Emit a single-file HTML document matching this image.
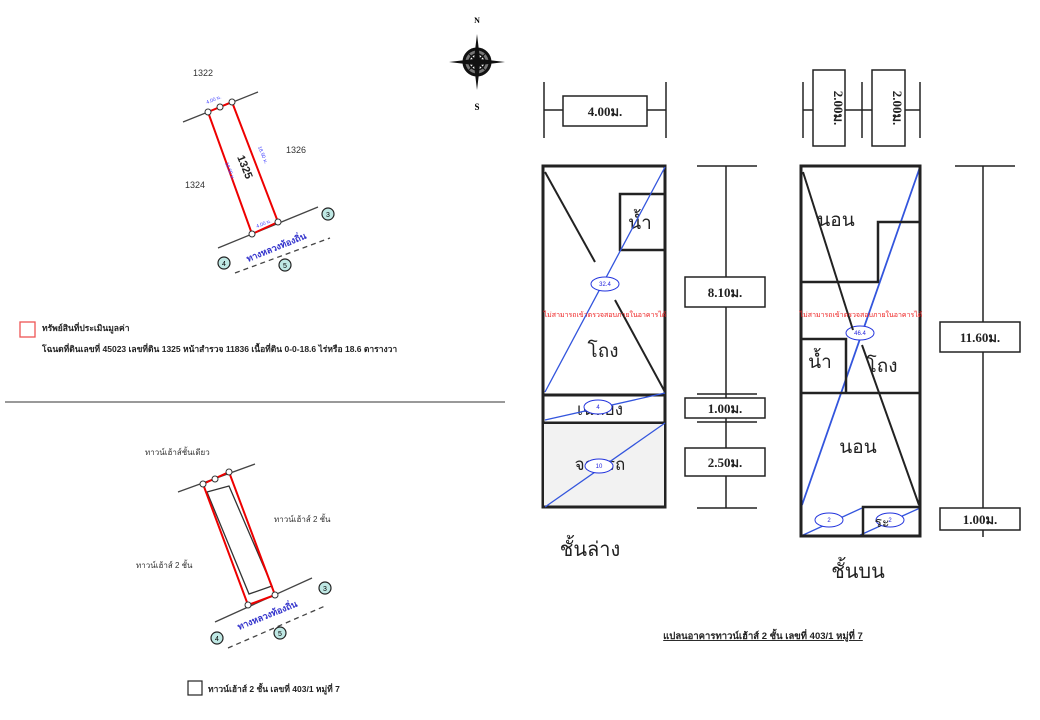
<!DOCTYPE html>
<html><head><meta charset="utf-8"><style>
html,body{margin:0;padding:0;background:#fff;}
svg{display:block;font-family:"Liberation Sans","Noto Sans CJK SC",sans-serif;}
.th{font-family:"Liberation Serif","Noto Serif CJK SC",serif;}
</style></head><body>
<svg width="1040" height="720" viewBox="0 0 1040 720" xmlns="http://www.w3.org/2000/svg">
<defs>
<g id="cir"><circle r="6" fill="#bfe8e4" stroke="#222" stroke-width="1.2"/></g>
</defs>
<!-- top-left parcel -->
<g font-size="9" fill="#333">
<text x="193" y="76">1322</text><text x="286" y="153">1326</text><text x="185" y="188">1324</text>
</g>
<line x1="183" y1="122" x2="258" y2="92" stroke="#444" stroke-width="1.3"/>
<line x1="218" y1="248" x2="318" y2="207" stroke="#444" stroke-width="1.3"/>
<line x1="235" y1="273" x2="330" y2="238" stroke="#444" stroke-width="1.3" stroke-dasharray="5,4"/>
<polygon points="208,112 232,102 278,222 252,234" fill="none" stroke="#e00" stroke-width="2"/>
<g fill="#fff" stroke="#333" stroke-width="1"><circle cx="208" cy="112" r="3"/><circle cx="220" cy="107" r="3"/><circle cx="232" cy="102" r="3"/><circle cx="278" cy="222" r="3"/><circle cx="252" cy="234" r="3"/></g>
<text x="0" y="0" font-size="11" font-weight="bold" fill="#222" transform="translate(237,157) rotate(68)">1325</text>
<text font-size="5" fill="#44f" transform="translate(207,104) rotate(-22)">4.00 ม.</text>
<text font-size="5" fill="#44f" transform="translate(257,228) rotate(-22)">4.00 ม.</text>
<text font-size="5" fill="#44f" transform="translate(258,147) rotate(68)">18.50 ม.</text>
<text font-size="5" fill="#44f" transform="translate(225,163) rotate(68)">18.50 ม.</text>
<text font-size="9" font-weight="bold" fill="#33c" transform="translate(248,262) rotate(-22)">ทางหลวงท้องถิ่น</text>
<use href="#cir" x="328" y="214"/><use href="#cir" x="224" y="263"/><use href="#cir" x="285" y="265"/>
<g font-size="7" text-anchor="middle" fill="#000"><text x="328" y="217">3</text><text x="224" y="266">4</text><text x="285" y="268">5</text></g>
<rect x="20" y="322" width="15" height="15" fill="none" stroke="#e55" stroke-width="1.3"/>
<text x="42" y="331" font-size="8.5" font-weight="bold" fill="#222">ทรัพย์สินที่ประเมินมูลค่า</text>
<text x="42" y="352" font-size="8.5" font-weight="bold" fill="#222">โฉนดที่ดินเลขที่ 45023 เลขที่ดิน 1325 หน้าสำรวจ 11836 เนื้อที่ดิน 0-0-18.6 ไร่หรือ 18.6 ตารางวา</text>
<line x1="5" y1="402" x2="505" y2="402" stroke="#333" stroke-width="1"/>
<!-- bottom-left parcel -->
<g font-size="8" fill="#333">
<text x="145" y="455">ทาวน์เฮ้าส์ชั้นเดียว</text><text x="274" y="522">ทาวน์เฮ้าส์ 2 ชั้น</text><text x="136" y="568">ทาวน์เฮ้าส์ 2 ชั้น</text>
</g>
<line x1="178" y1="492" x2="255" y2="464" stroke="#444" stroke-width="1.3"/>
<line x1="215" y1="622" x2="312" y2="578" stroke="#444" stroke-width="1.3"/>
<line x1="228" y1="648" x2="325" y2="606" stroke="#444" stroke-width="1.3" stroke-dasharray="5,4"/>
<polygon points="207,492 229,486 272,586 249,594" fill="none" stroke="#333" stroke-width="1.3"/>
<polygon points="203,484 229,472 275,595 248,605" fill="none" stroke="#e00" stroke-width="2"/>
<g fill="#fff" stroke="#333" stroke-width="1"><circle cx="203" cy="484" r="3"/><circle cx="215" cy="479" r="3"/><circle cx="229" cy="472" r="3"/><circle cx="275" cy="595" r="3"/><circle cx="248" cy="605" r="3"/></g>
<text font-size="9" font-weight="bold" fill="#33c" transform="translate(239,630) rotate(-22)">ทางหลวงท้องถิ่น</text>
<use href="#cir" x="325" y="588"/><use href="#cir" x="217" y="638"/><use href="#cir" x="280" y="633"/>
<g font-size="7" text-anchor="middle" fill="#000"><text x="325" y="591">3</text><text x="217" y="641">4</text><text x="280" y="636">5</text></g>
<rect x="188" y="681" width="14" height="14" fill="none" stroke="#222" stroke-width="1.2"/>
<text x="208" y="692" font-size="8.5" font-weight="bold" fill="#222">ทาวน์เฮ้าส์ 2 ชั้น เลขที่ 403/1 หมู่ที่ 7</text>
<!-- compass -->
<g transform="translate(477,62)">
<circle r="13" fill="#777" stroke="#111" stroke-width="3"/>
<circle r="8" fill="#fff" stroke="#111" stroke-width="1.5"/>
<polygon points="0,-28 3,-3 28,0 3,3 0,28 -3,3 -28,0 -3,-3" fill="#111"/>
<polygon points="-10,-10 0,-2 10,-10 2,0 10,10 0,2 -10,10 -2,0" fill="#111"/>
</g>
<text x="477" y="23" font-size="8" font-weight="bold" text-anchor="middle" class="th">N</text>
<text x="477" y="110" font-size="9" font-weight="bold" text-anchor="middle" class="th">S</text>
<!-- left floor plan -->
<g stroke="#222" fill="none" stroke-width="1.5">
<line x1="544" y1="82" x2="544" y2="138"/><line x1="666" y1="82" x2="666" y2="138"/>
<line x1="544" y1="110" x2="563" y2="110"/><line x1="647" y1="110" x2="666" y2="110"/>
<rect x="563" y="96" width="84" height="30"/>
<rect x="543" y="166" width="122" height="341" stroke-width="3"/>
<line x1="543" y1="395" x2="665" y2="395" stroke-width="3"/>
<line x1="543" y1="423" x2="665" y2="423" stroke-width="3"/>
<rect x="620" y="194" width="45" height="56" stroke-width="2.5"/>
<line x1="545" y1="172" x2="595" y2="262" stroke-width="2"/>
<line x1="615" y1="300" x2="665" y2="392" stroke-width="2"/>
<line x1="697" y1="166" x2="757" y2="166"/><line x1="726" y1="166" x2="726" y2="508"/>
<line x1="697" y1="508" x2="757" y2="508"/>
<line x1="697" y1="394" x2="757" y2="394"/><line x1="697" y1="422" x2="757" y2="422"/>
</g>
<rect x="544" y="424" width="120" height="82" fill="#f2f2f2"/>
<line x1="543" y1="507" x2="665" y2="507" stroke="#222" stroke-width="3"/>
<g fill="#fff" stroke="#222" stroke-width="1.5">
<rect x="685" y="277" width="80" height="30"/><rect x="685" y="398" width="80" height="20"/><rect x="685" y="448" width="80" height="28"/>
</g>
<g class="th" font-size="13" font-weight="bold" text-anchor="middle" fill="#222">
<text x="605" y="116">4.00ม.</text><text x="725" y="297">8.10ม.</text><text x="725" y="413">1.00ม.</text><text x="725" y="467">2.50ม.</text>
</g>
<g class="th" font-size="19" text-anchor="middle" fill="#222">
<text x="640" y="229">น้ำ</text><text x="603" y="357">โถง</text><text x="600" y="415" font-size="17">เฉลียง</text><text x="600" y="470" font-size="17">จอดรถ</text>
<text x="590" y="556" font-size="20">ชั้นล่าง</text>
</g>
<g stroke="#3355dd" stroke-width="1.3" fill="none">
<line x1="665" y1="167" x2="545" y2="392"/>
<line x1="545" y1="420" x2="665" y2="393"/>
<line x1="545" y1="507" x2="665" y2="423"/>
<line x1="920" y1="167" x2="802" y2="505" stroke-width="1.8"/>
<line x1="801" y1="536" x2="862" y2="508"/><line x1="858" y1="536" x2="920" y2="508"/>
</g>
<g fill="#fff" stroke="#2233dd" stroke-width="1">
<ellipse cx="605" cy="284" rx="14" ry="7"/><ellipse cx="598" cy="407" rx="14" ry="7"/><ellipse cx="599" cy="466" rx="14" ry="7"/>
<ellipse cx="860" cy="333" rx="14" ry="7"/><ellipse cx="829" cy="520" rx="14" ry="7"/><ellipse cx="890" cy="520" rx="14" ry="7"/>
</g>
<g font-size="6" fill="#22d" text-anchor="middle">
<text x="605" y="286">32.4</text><text x="598" y="409">4</text><text x="599" y="468">10</text>
<text x="860" y="335">46.4</text><text x="829" y="522">2</text><text x="890" y="522">2</text>
</g>
<!-- right floor plan -->
<g stroke="#222" fill="none" stroke-width="1.5">
<line x1="803" y1="82" x2="803" y2="138"/><line x1="862" y1="82" x2="862" y2="138"/><line x1="920" y1="82" x2="920" y2="138"/>
<line x1="803" y1="110" x2="813" y2="110"/><line x1="845" y1="110" x2="872" y2="110"/><line x1="905" y1="110" x2="920" y2="110"/>
<rect x="813" y="70" width="32" height="76"/><rect x="872" y="70" width="33" height="76"/>
<rect x="801" y="166" width="119" height="370" stroke-width="3"/>
<polyline points="801,282 878,282 878,222 920,222" stroke-width="2.5"/>
<line x1="801" y1="393" x2="920" y2="393" stroke-width="2.5"/>
<polyline points="801,339 846,339 846,393" stroke-width="2.5"/>
<polyline points="863,536 863,507 920,507" stroke-width="2.5"/>
<line x1="803" y1="172" x2="853" y2="330" stroke-width="2"/>
<line x1="862" y1="345" x2="919" y2="505" stroke-width="2"/>
<line x1="955" y1="166" x2="1015" y2="166"/><line x1="983" y1="166" x2="983" y2="537"/>
</g>
<g fill="#fff" stroke="#222" stroke-width="1.5">
<rect x="940" y="322" width="80" height="30"/><rect x="940" y="508" width="80" height="22"/>
</g>
<g class="th" font-size="13" font-weight="bold" text-anchor="middle" fill="#222">
<text transform="translate(834,108) rotate(90)" text-anchor="middle">2.00ม.</text>
<text transform="translate(893,108) rotate(90)" text-anchor="middle">2.00ม.</text>
<text x="980" y="342">11.60ม.</text><text x="980" y="524">1.00ม.</text>
</g>
<g class="th" font-size="19" text-anchor="middle" fill="#222">
<text x="836" y="226">นอน</text><text x="820" y="368">น้ำ</text><text x="882" y="372">โถง</text><text x="858" y="453">นอน</text>
<text x="882" y="527" font-size="14">ระ</text>
<text x="858" y="578" font-size="20">ชั้นบน</text>
</g>
<g font-size="7" fill="#e22" text-anchor="middle">
<text x="605" y="317">ไม่สามารถเข้าตรวจสอบภายในอาคารได้</text>
<text x="861" y="317">ไม่สามารถเข้าตรวจสอบภายในอาคารได้</text>
</g>
<text x="763" y="639" font-size="9.5" font-weight="bold" text-anchor="middle" fill="#222" text-decoration="underline">แปลนอาคารทาวน์เฮ้าส์ 2 ชั้น เลขที่ 403/1 หมู่ที่ 7</text>
</svg>
</body></html>
